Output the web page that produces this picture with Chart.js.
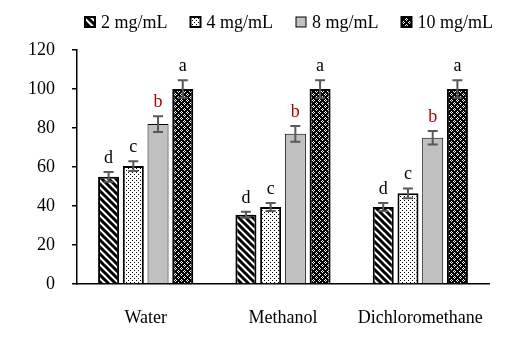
<!DOCTYPE html>
<html>
<head>
<meta charset="utf-8">
<script src="https://cdn.jsdelivr.net/npm/chart.js@4"></script>
<style>
  html, body { margin: 0; padding: 0; background: #fff; }
  #wrap { width: 524px; height: 342px; }
</style>
</head>
<body>
<div id="wrap"><canvas id="chart" width="524" height="342"></canvas></div>
<script>
// data
var categories = ["Water", "Methanol", "Dichloromethane"];
var seriesNames = ["2 mg/mL", "4 mg/mL", "8 mg/mL", "10 mg/mL"];
var conc2 = [55, 35.5, 39.5];
var conc4 = [60.5, 39.5, 46.5];
var conc8 = [82, 77, 75];
var conc10 = [100, 100, 100];
var err2 = [2.5, 1.5, 2];
var err4 = [2.5, 2, 2.5];
var err8 = [4, 4, 3.5];
var err10 = [4.5, 4.5, 4.5];
var letters = ["d", "c", "b", "a"];
var yTicks = [0, 20, 40, 60, 80, 100, 120];

var FONT = "'Liberation Serif', 'Times New Roman', serif";

function makeTile(size, draw) {
    var c = document.createElement("canvas");
    c.width = size; c.height = size;
    var g = c.getContext("2d");
    g.fillStyle = "#fff";
    g.fillRect(0, 0, size, size);
    draw(g, size);
    return document.getElementById("chart").getContext("2d").createPattern(c, "repeat");
}

// "\\" stripes
var stripes = makeTile(7, function(g, n) {
    g.strokeStyle = "#000";
    g.lineWidth = 3;
    g.beginPath();
    g.moveTo(-n, -n); g.lineTo(2 * n, 2 * n);
    g.moveTo(-n, 0); g.lineTo(n, 2 * n);
    g.moveTo(0, -n); g.lineTo(2 * n, n);
    g.stroke();
});
// sparse dots
var dots = makeTile(4, function(g) {
    g.fillStyle = "#000";
    g.fillRect(0, 0, 1, 1);
    g.fillRect(2, 2, 1, 1);
});
// checkers with dithered cells
var checks = makeTile(6, function(g) {
    g.fillStyle = "#000";
    g.fillRect(0, 0, 3, 3);
    g.fillRect(3, 3, 3, 3);
    for (var y = 0; y < 3; y++) {
        for (var x = 0; x < 3; x++) {
            if ((x + y) % 2 === 0) {
                g.fillRect(3 + x, y, 1, 1);
                g.fillRect(x, 3 + y, 1, 1);
            }
        }
    }
});

var fills = [stripes, dots, "#c0c0c0", checks];
var borders = [2, 2, 1, 2];
var values = [conc2, conc4, conc8, conc10];
var errors = [err2, err4, err8, err10];

var errorBars = {
    id: "errorBars",
    afterDatasetsDraw: function(chart) {
        var ctx = chart.ctx;
        var y = chart.scales.y;
        ctx.save();
        chart.data.datasets.forEach(function(ds, i) {
            var meta = chart.getDatasetMeta(i);
            meta.data.forEach(function(bar, j) {
                var v = ds.data[j], e = errors[i][j];
                var top = y.getPixelForValue(v + e);
                var bot = y.getPixelForValue(v - e);
                ctx.strokeStyle = "#595959";
                ctx.lineWidth = 2;
                ctx.beginPath();
                ctx.moveTo(bar.x, top); ctx.lineTo(bar.x, bot);
                ctx.moveTo(bar.x - 5, top); ctx.lineTo(bar.x + 5, top);
                ctx.moveTo(bar.x - 5, bot); ctx.lineTo(bar.x + 5, bot);
                ctx.stroke();
                ctx.fillStyle = letters[i] === "b" ? "#b00000" : "#000";
                ctx.font = "18px " + FONT;
                ctx.textAlign = "center";
                ctx.textBaseline = "alphabetic";
                ctx.fillText(letters[i], bar.x, top - 9);
            });
        });
        ctx.restore();
    }
};

var topLegend = {
    id: "topLegend",
    afterDraw: function(chart) {
        var ctx = chart.ctx;
        ctx.save();
        ctx.font = "18px " + FONT;
        var box = 10, gap = 6, space = 23;
        var widths = seriesNames.map(function(s) { return ctx.measureText(s).width; });
        var total = widths.reduce(function(a, w) { return a + box + gap + w; }, 0) + space * (seriesNames.length - 1);
        var x = 289 - total / 2;
        var cy = 22;
        seriesNames.forEach(function(name, i) {
            ctx.fillStyle = fills[i];
            ctx.fillRect(x, cy - box / 2, box, box);
            ctx.strokeStyle = "#000";
            ctx.lineWidth = i === 2 ? 1 : 2;
            ctx.strokeRect(x, cy - box / 2, box, box);
            ctx.fillStyle = "#000";
            ctx.textAlign = "left";
            ctx.textBaseline = "middle";
            ctx.fillText(name, x + box + gap, cy + 1);
            x += box + gap + widths[i] + space;
        });
        ctx.restore();
    }
};

new Chart(document.getElementById("chart"), {
    type: "bar",
    data: {
        labels: categories,
        datasets: seriesNames.map(function(name, i) {
            return {
                label: name,
                data: values[i],
                backgroundColor: fills[i],
                borderColor: "#000",
                borderWidth: borders[i],
                borderSkipped: "bottom",
                categoryPercentage: 0.72,
                barPercentage: 0.85
            };
        })
    },
    options: {
        responsive: false,
        animation: false,
        layout: { padding: { top: 50, right: 35, left: 0, bottom: 0 } },
        plugins: { legend: { display: false }, tooltip: { enabled: false } },
        scales: {
            x: {
                grid: { display: false },
                border: { display: true, color: "#000", width: 1.5 },
                ticks: { color: "#000", font: { family: FONT, size: 18 }, padding: 15 },
                afterFit: function(s) { s.height = 58; }
            },
            y: {
                min: 0,
                max: 120,
                afterBuildTicks: function(s) { s.ticks = yTicks.map(function(v) { return { value: v }; }); },
                grid: { drawOnChartArea: false, drawTicks: true, tickLength: 5, color: "#000", lineWidth: 1.5 },
                border: { display: true, color: "#000", width: 1.5 },
                ticks: { color: "#000", font: { family: FONT, size: 18 }, padding: 17 },
                afterFit: function(s) { s.width = 77; }
            }
        }
    },
    plugins: [errorBars, topLegend]
});
</script>
</body>
</html>
